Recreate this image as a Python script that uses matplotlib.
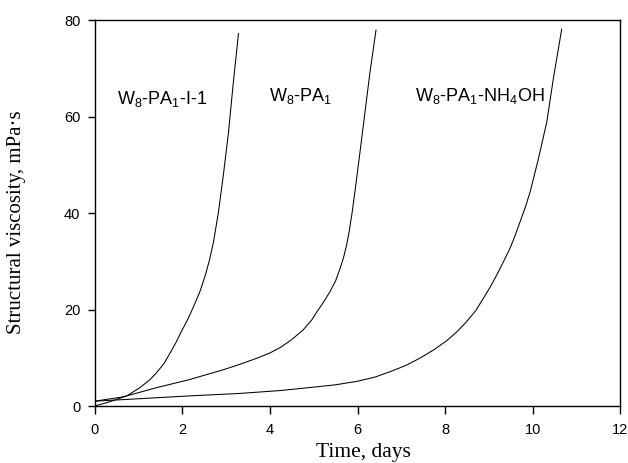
import matplotlib
matplotlib.use("Agg")
import matplotlib.pyplot as plt

plt.rcParams['font.family'] = ['Liberation Sans', 'DejaVu Sans']
plt.rcParams['mathtext.fontset'] = 'custom'
plt.rcParams['mathtext.rm'] = 'Liberation Sans'
plt.rcParams['mathtext.it'] = 'Liberation Sans:italic'

# Curve W8-PA1-I-1
t1 = [0.0, 0.35, 0.73, 1.03, 1.25, 1.41, 1.58, 1.72, 1.85, 1.98, 2.12, 2.25, 2.40, 2.52,
      2.62, 2.71, 2.82, 2.93, 3.05, 3.16, 3.28]
v1 = [0.0, 0.9, 2.1, 3.8, 5.4, 6.9, 8.8, 11.0, 13.1, 15.5, 17.9, 20.5, 23.7, 27.0,
      30.3, 34.0, 40.0, 47.5, 56.5, 66.8, 77.2]

# Curve W8-PA1
t2 = [0.0, 0.65, 1.41, 2.17, 2.93, 3.30, 3.70, 4.00, 4.25, 4.50, 4.76, 4.95, 5.07, 5.22,
      5.37, 5.50, 5.60, 5.68, 5.75, 5.81, 5.87, 5.94, 6.06, 6.17, 6.28, 6.42]
v2 = [1.0, 1.9, 3.8, 5.5, 7.5, 8.6, 9.9, 11.0, 12.2, 13.8, 15.8, 17.8, 19.5, 21.5,
      23.7, 26.0, 28.5, 30.8, 33.4, 36.3, 39.8, 44.5, 53.0, 61.0, 69.0, 77.9]

# Curve W8-PA1-NH4OH
t3 = [0.0, 1.0, 2.17, 3.3, 4.23, 4.99, 5.50, 5.98, 6.40, 6.74, 7.10, 7.42, 7.75, 8.03,
      8.27, 8.49, 8.70, 8.87, 9.03, 9.18, 9.33, 9.48, 9.60, 9.71, 9.83, 9.94, 10.13,
      10.32, 10.47, 10.66]
v3 = [1.0, 1.5, 2.1, 2.6, 3.2, 3.9, 4.4, 5.1, 6.0, 7.1, 8.4, 9.9, 11.7, 13.5,
      15.4, 17.5, 19.8, 22.3, 24.7, 27.2, 29.9, 32.7, 35.4, 38.2, 41.2, 44.4, 51.3,
      58.9, 67.9, 78.1]

labels = [r'W$\mathregular{_8}$-PA$\mathregular{_1}$-I-1',
          r'W$\mathregular{_8}$-PA$\mathregular{_1}$',
          r'W$\mathregular{_8}$-PA$\mathregular{_1}$-NH$\mathregular{_4}$OH']
label_pos = [(0.5, 63.6), (3.98, 64.3), (7.31, 64.3)]

xticks = [0, 2, 4, 6, 8, 10, 12]
yticks = [0, 20, 40, 60, 80]

W, H = 628, 463
fig = plt.figure(figsize=(W / 100, H / 100), dpi=100)
ax = fig.add_axes([94.8 / W, 1 - 406 / H, 525.6 / W, 386 / H])

for t, v in [(t1, v1), (t2, v2), (t3, v3)]:
    ax.plot(t, v, color='black', linewidth=0.75, solid_joinstyle='round')

for lab, (x, y) in zip(labels, label_pos):
    ax.text(x, y, lab, fontsize=13, ha='left', va='center')

ax.set_xlim(0, 12)
ax.set_ylim(0, 80)
ax.set_xticks(xticks)
ax.set_yticks(yticks)
ax.tick_params(direction='out', length=5.4, width=1, labelsize=10.5, top=False, right=False)
ax.tick_params(axis='x', pad=6.5)
ax.tick_params(axis='y', pad=5)
for s in ax.spines.values():
    s.set_linewidth(1.0)

fig.text(363.5 / W, 1 - 457.5 / H, 'Time, days', fontsize=15.5, family='Liberation Serif',
         ha='center', va='baseline')
fig.text(17 / W, 1 - 222.5 / H, 'Structural viscosity, mPa·s', fontsize=15,
         family='Liberation Serif', ha='center', va='center', rotation=90)

fig.savefig('out.png', dpi=100)
